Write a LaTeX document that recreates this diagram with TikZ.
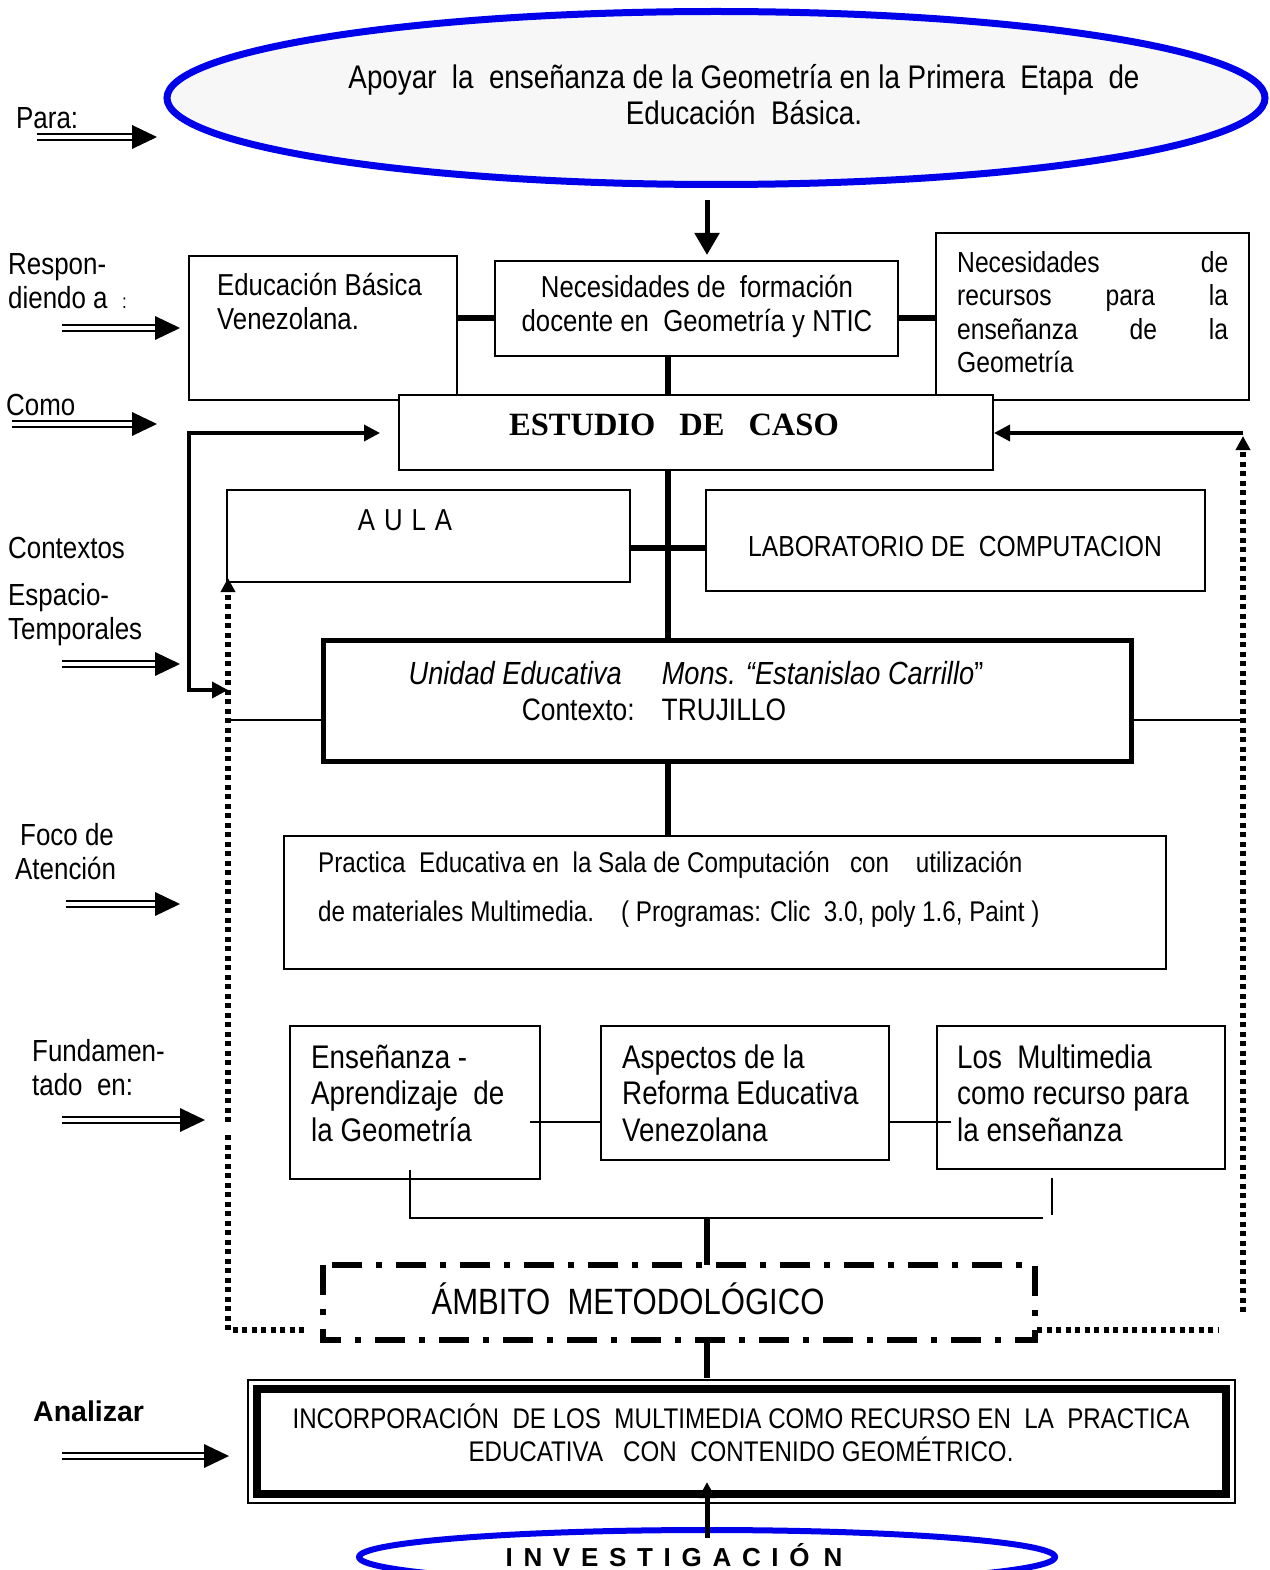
\documentclass[tikz,border=0pt]{standalone}
\usepackage{fontspec}
\setmainfont{Liberation Sans}[FakeStretch=0.85]
\newfontfamily\widefont{Liberation Sans}
\newfontfamily\serifbold{Liberation Serif}
\usetikzlibrary{arrows.meta,shapes.geometric}
\definecolor{ellblue}{RGB}{0,0,235}
\definecolor{ellfill}{RGB}{247,247,247}
\newcommand\fs[2]{\fontsize{#1}{#2}\selectfont}
\newcommand\dblarrow[3]{%
  \draw[line width=2.2pt] (#1,#3-3.2) -- (#2-24,#3-3.2) (#1,#3+3.2) -- (#2-24,#3+3.2);
  \fill (#2,#3) -- (#2-25,#3-12) -- (#2-25,#3+12) -- cycle;}
\begin{document}
\begin{tikzpicture}[x=1pt,y=-1pt,
  box/.style={draw, line width=2pt, inner sep=0pt},
  lbl/.style={anchor=west, align=left, inner sep=0pt, font=\fs{30.5}{34}},
  txt/.style={inner sep=0pt, font=\fs{30.3}{34}},
  thickc/.style={line width=6pt},
  thinc/.style={line width=2pt},
  arr/.style={line width=3.5pt},
  dots/.style={line width=5.5pt, dash pattern=on 5pt off 4.5pt},
  ell/.style={ellipse, draw=ellblue, fill=ellfill, inner sep=0pt}]
\useasboundingbox (0,0) rectangle (1269,1570);

% top ellipse
\node[ell, line width=7pt, minimum width=1098, minimum height=173] (goal) at (716,98) {};
\node[txt, align=center, font=\fs{32.7}{36}] (goaltxt) at (744,95)
  {Apoyar\ \ la\ \ enseñanza de la Geometría en la Primera\ \ Etapa\ \ de\\Educación\ \ Básica.};

% left labels
\node[lbl] (l1) at (16,118) {Para:};
\node[lbl] (l2) at (8,281) {Respon-\\diendo a\ \ {\fs{20}{20}:}};
\node[lbl] (l3) at (6,405) {Como};
\node[lbl] (l4) at (8,548) {Contextos};
\node[lbl] (l5) at (8,615) {Espacio-\\Temporales};
\node[lbl] (l6) at (15,852) {\hspace{5pt}Foco de\\Atención};
\node[lbl] (l7) at (32,1068) {Fundamen-\\tado\ \ en:};
\node[lbl, font=\widefont\bfseries\fs{28.5}{32}] (l8) at (33,1411) {Analizar};

\dblarrow{37}{157}{137}
\dblarrow{62}{180}{328}
\dblarrow{12}{157}{424}
\dblarrow{62}{180}{664}
\dblarrow{66}{180}{904}
\dblarrow{62}{205}{1120}
\dblarrow{62}{229}{1456}

% top row boxes
\node[box, minimum width=268, minimum height=144] (edu) at (323,328) {};
\node[lbl, font=\fs{30.3}{34}] at (217,301) {Educación Básica\\Venezolana.};
\node[box, minimum width=403, minimum height=95] (nec) at (696.5,308.5) {};
\node[txt, align=center] at (697,306) {Necesidades de\ \ formación\\docente en\ \ Geometría y NTIC};
\node[box, minimum width=313, minimum height=167] (rec) at (1092.5,316.5) {};
\node[txt, anchor=west, text width=271pt, align=left, font=\fs{29}{33.5}] at (957,312)
  {Necesidades\hfill de\\recursos\hfill para\hfill la\\enseñanza\hfill de\hfill la\\Geometría};

\draw[thickc] (edu.east |- 0,318) -- (nec.west |- 0,318);
\draw[thickc] (nec.east |- 0,318) -- (rec.west |- 0,318);
\coordinate (ga) at (707,200);
\draw[line width=5pt, -{Triangle[length=22pt,width=24pt]}] (ga) -- (707,255);

% estudio de caso
\node[box, fill=white, minimum width=594, minimum height=75] (est) at (696,432.5) {};
\node[txt, font=\serifbold\bfseries\fs{32.5}{36}] at (674,425) {ESTUDIO\hspace{24pt}DE\hspace{24pt}CASO};
\draw[thickc] (668,356) -- (668,395);

% aula / laboratorio
\node[box, minimum width=403, minimum height=92] (aula) at (428.5,536) {};
\node[txt] at (405,520) {A\hspace{9pt}U\hspace{9pt}L\hspace{9pt}A};
\node[box, minimum width=499, minimum height=101] (lab) at (955.5,540.5) {};
\node[txt, font=\fs{29}{34}] at (955,547) {LABORATORIO DE\ \ COMPUTACION};
\draw[thickc] (aula.east |- 0,548) -- (lab.west |- 0,548);

% unidad educativa
\node[box, line width=5pt, minimum width=808, minimum height=121] (uni) at (727,700.5) {};
\node[txt, font=\itshape\fs{32}{34}] at (696,673) {Unidad Educativa\hspace{40pt}Mons. “Estanislao Carrillo\upshape”};
\node[txt, font=\fs{31}{34}] at (654,710) {Contexto:\hspace{27pt}TRUJILLO};
\draw[thickc] (668,470) -- (668,640);
\draw[thickc] (668,761) -- (668,836);
\draw[thinc] (228,720) -- (uni.west |- 0,720);
\draw[thinc] (uni.east |- 0,720) -- (1243,720);

% practica
\node[box, minimum width=882, minimum height=133] (prac) at (725,902.5) {};
\node[txt, anchor=west, font=\fs{28.5}{32}] at (318,865) {Practica\ \ Educativa en\ \ la Sala de Computación\ \ \ con\ \ \ \ utilización};
\node[txt, anchor=west, font=\fs{28.5}{32}] at (318,914) {de materiales Multimedia.\ \ \ \ ( Programas: Clic\ \ 3.0, poly 1.6, Paint )};

% three boxes
\node[box, minimum width=250, minimum height=153] (ens) at (415,1102.5) {};
\node[lbl, font=\fs{32.7}{36.5}] at (311,1093) {Enseñanza -\\Aprendizaje\ \ de\\la Geometría};
\node[box, minimum width=288, minimum height=134] (asp) at (745,1093) {};
\node[lbl, font=\fs{32.7}{36.5}] at (622,1093) {Aspectos de la\\Reforma Educativa\\Venezolana};
\node[box, minimum width=288, minimum height=143] (mul) at (1081,1097.5) {};
\node[lbl, font=\fs{32.7}{36.5}] at (957,1093) {Los\ \ Multimedia\\como recurso para\\la enseñanza};
\draw[thinc] (530,1122) -- (asp.west |- 0,1122);
\draw[thinc] (asp.east |- 0,1122) -- (951,1122);
\draw[thinc] (410,1170) -- (410,1218) -- (1043,1218);
\draw[thinc] (1052,1178) -- (1052,1215);

% ambito
\node[inner sep=0pt, minimum width=712, minimum height=75] (amb) at (679,1302.5) {};
\draw[line width=6pt, dash pattern=on 30pt off 14pt on 6pt off 14pt] (amb.north west) rectangle (amb.south east);
\node[txt, font=\fs{36.6}{40}] at (628,1299) {ÁMBITO\ \ METODOLÓGICO};
\draw[thickc] (707,1218) -- (amb.north -| 707,0);
\draw[thickc] (amb.south -| 707,0) -- (707,1378);

% incorporacion
\node[box, minimum width=987, minimum height=123] (inc) at (741.5,1441.5) {};
\draw[line width=8pt] (257,1389) rectangle (1226,1494);
\node[txt, align=center, font=\fs{28.4}{33}] at (741,1433)
  {INCORPORACIÓN\ \ DE LOS\ \ MULTIMEDIA COMO RECURSO EN\ \ LA\ \ PRACTICA\\EDUCATIVA\ \ \ CON\ \ CONTENIDO GEOMÉTRICO.};

% investigacion ellipse
\node[ell, fill=white, line width=6pt, minimum width=696, minimum height=54] (inv) at (707,1557) {};
\node[inner sep=0pt, anchor=base, font=\widefont\bfseries\fs{26}{30}] at (674,1566)
  {I\hspace{10.7pt}N\hspace{10.7pt}V\hspace{10.7pt}E\hspace{10.7pt}S\hspace{10.7pt}T\hspace{10.7pt}I\hspace{10.7pt}G\hspace{10.7pt}A\hspace{10.7pt}C\hspace{10.7pt}I\hspace{10.7pt}Ó\hspace{14pt}N};
\draw[line width=5pt, -{Triangle[length=16pt,width=16pt]}] (707,1538) -- (707,1482);

% feedback loops
\draw[arr, {Triangle[length=16pt,width=16pt]}-{Triangle[length=16pt,width=16pt]}] (380,433) -- (189,433) -- (189,690) -- (228,690);
\draw[arr, -{Triangle[length=16pt,width=16pt]}] (1243,433) -- (est.east |- 0,433);
\draw[dots, -{Triangle[length=14pt,width=14pt]}] (228,1122) -- (228,578);
\draw[dots] (228,1135) -- (228,1330) -- (305,1330);
\draw[dots, -{Triangle[length=14pt,width=14pt]}] (1243,1312) -- (1243,436);
\draw[dots] (1037,1330) -- (1218,1330);
\end{tikzpicture}
\end{document}
